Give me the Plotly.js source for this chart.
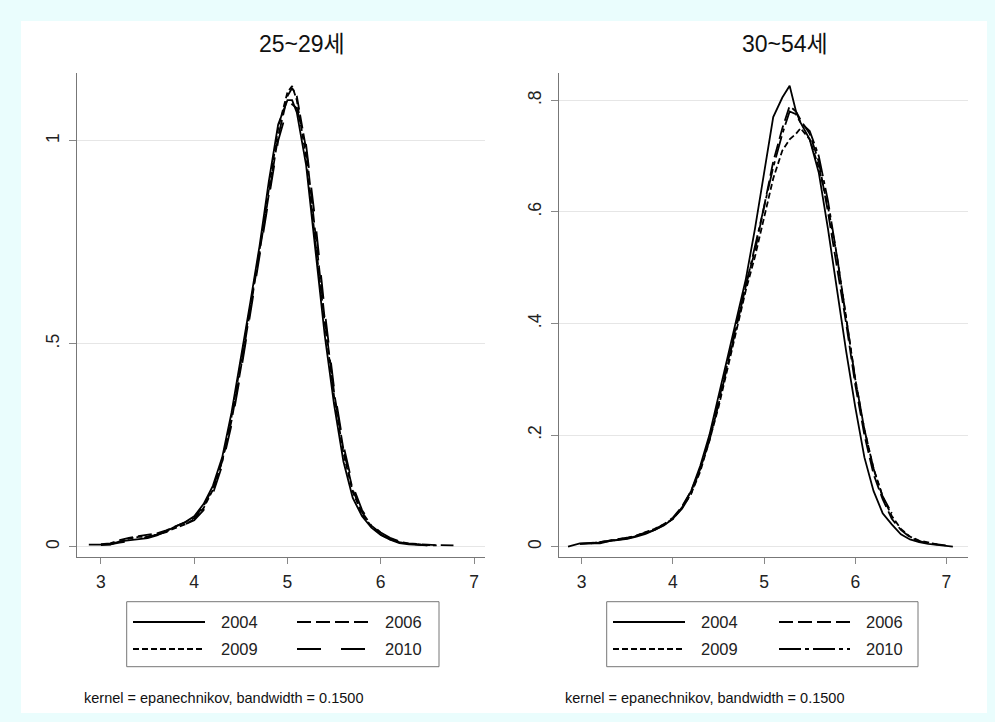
<!DOCTYPE html>
<html>
<head>
<meta charset="utf-8">
<script src="https://cdn.plot.ly/plotly-3.0.1.min.js"></script>
<style>
html,body{margin:0;padding:0;background:#EAFDFD;}
#chart{width:995px;height:722px;}
</style>
</head>
<body>
<div id="chart"></div>
<script>
// ---------- DATA ----------
const panelTitles = ["25~29세", "30~54세"];
const years = ["2004", "2006", "2009", "2010"];
const footnote = "kernel = epanechnikov, bandwidth = 0.1500";

const xTicks = [3, 4, 5, 6, 7];
const yTicksL = [0, 0.5, 1];
const yTickTextL = ["0", ".5", "1"];
const yTicksR = [0, 0.2, 0.4, 0.6, 0.8];
const yTickTextR = ["0", ".2", ".4", ".6", ".8"];

// Left panel (25~29)
const xL = [2.87,3.0,3.1,3.2,3.3,3.4,3.5,3.6,3.7,3.8,3.9,4.0,4.1,4.2,4.3,4.4,4.5,4.6,4.7,4.8,4.9,5.0,5.05,5.1,5.2,5.3,5.4,5.5,5.6,5.7,5.8,5.9,6.0,6.1,6.2,6.3,6.4,6.5,6.6,6.7,6.78];
const L2004 = [0.005,0.005,0.005,0.013,0.016,0.018,0.021,0.028,0.038,0.05,0.06,0.075,0.105,0.15,0.22,0.33,0.46,0.60,0.74,0.90,1.04,1.10,1.10,1.07,0.94,0.73,0.52,0.35,0.21,0.12,0.075,0.047,0.029,0.017,0.009,0.006,0.004,0.003,null,null,null];
const L2006 = [null,0.006,0.008,0.016,0.022,0.026,0.03,0.033,0.04,0.05,0.058,0.07,0.10,0.145,0.21,0.31,0.44,0.58,0.72,0.87,1.01,1.11,1.13,1.11,0.98,0.77,0.56,0.38,0.24,0.14,0.085,0.052,0.033,0.02,0.012,0.008,0.006,0.005,0.004,0.004,0.003];
const L2009 = [null,null,0.007,0.012,0.02,0.024,0.025,0.03,0.037,0.047,0.055,0.068,0.095,0.14,0.21,0.32,0.45,0.59,0.73,0.88,1.03,1.12,1.135,1.10,0.96,0.75,0.55,0.37,0.23,0.135,0.08,0.05,0.03,0.018,0.011,0.007,0.005,0.004,0.003,null,null];
const L2010 = [null,0.004,0.006,0.01,0.014,0.02,0.024,0.03,0.036,0.045,0.055,0.065,0.09,0.13,0.20,0.30,0.43,0.57,0.71,0.86,1.00,1.08,1.09,1.08,0.99,0.80,0.58,0.39,0.25,0.15,0.09,0.055,0.035,0.022,0.013,0.008,0.005,0.003,null,null,null];

// Right panel (30~54)
const xR = [2.85,2.98,3.1,3.2,3.3,3.4,3.5,3.6,3.7,3.8,3.9,4.0,4.1,4.2,4.3,4.4,4.5,4.6,4.7,4.8,4.9,5.0,5.1,5.2,5.28,5.35,5.4,5.5,5.6,5.7,5.8,5.9,6.0,6.1,6.2,6.3,6.4,6.5,6.6,6.7,6.8,6.9,7.0,7.07];
const R2004 = [0,0.006,0.006,0.006,0.010,0.012,0.014,0.018,0.023,0.03,0.038,0.05,0.07,0.10,0.145,0.20,0.27,0.34,0.41,0.48,0.57,0.67,0.77,0.805,0.826,0.78,0.76,0.73,0.67,0.57,0.46,0.35,0.25,0.16,0.10,0.06,0.04,0.022,0.013,0.008,0.005,0.003,0.001,0];
const R2006 = [null,0.005,0.006,0.008,0.011,0.013,0.016,0.02,0.025,0.031,0.04,0.052,0.072,0.10,0.14,0.195,0.26,0.33,0.40,0.47,0.53,0.61,0.69,0.75,0.79,0.78,0.765,0.74,0.69,0.60,0.50,0.40,0.29,0.20,0.13,0.085,0.05,0.03,0.017,0.01,0.006,0.004,0.002,null];
const R2009 = [null,null,0.006,0.008,0.01,0.013,0.016,0.02,0.026,0.032,0.04,0.05,0.07,0.095,0.135,0.19,0.25,0.32,0.39,0.46,0.52,0.59,0.66,0.71,0.73,0.74,0.75,0.73,0.68,0.61,0.52,0.41,0.30,0.21,0.14,0.09,0.055,0.032,0.018,0.011,0.007,0.004,null,null];
const R2010 = [null,0.005,0.006,0.007,0.01,0.012,0.015,0.019,0.024,0.03,0.039,0.05,0.068,0.095,0.14,0.19,0.255,0.325,0.395,0.465,0.535,0.61,0.68,0.74,0.78,0.775,0.76,0.745,0.70,0.62,0.52,0.41,0.30,0.21,0.14,0.09,0.06,null,null,null,null,null,null,null];

// ---------- STYLE ----------
const W = 995, H = 722;
const px = v => v / W;
const py = v => 1 - v / H;
const FONT = "Liberation Sans, Arial, Noto Sans CJK KR, sans-serif";
const LW = 1.8;
const dashL = ["solid", "14px,5px", "6px,3px", "24px,20px"];
const dashR = ["solid", "14px,5px", "6px,3px", "22px,4px,4px,4px"];

const seriesL = [L2004, L2006, L2009, L2010];
const seriesR = [R2004, R2006, R2009, R2010];

const traces = [];
seriesL.forEach((ys, i) => traces.push({
  x: xL, y: ys, type: "scatter", mode: "lines", xaxis: "x", yaxis: "y",
  name: years[i], showlegend: false, connectgaps: false,
  line: {color: "#000", width: LW, dash: dashL[i]}
}));
seriesR.forEach((ys, i) => traces.push({
  x: xR, y: ys, type: "scatter", mode: "lines", xaxis: "x2", yaxis: "y2",
  name: years[i], showlegend: false, connectgaps: false,
  line: {color: "#000", width: LW, dash: dashR[i]}
}));

function xAxis(domain, range) {
  return {
    domain: domain, range: range, tickmode: "array", tickvals: xTicks,
    ticks: "outside", ticklen: 6, tickcolor: "#888", tickwidth: 1,
    showline: true, linecolor: "#777", linewidth: 1, ticklabelstandoff: 3,
    showgrid: false, zeroline: false, fixedrange: true,
    tickfont: {family: FONT, size: 17.5, color: "#222"}
  };
}
function yAxis(domain, range, vals, text) {
  return {
    domain: domain, range: range, tickmode: "array", tickvals: vals, ticktext: text,
    tickangle: -90, ticks: "outside", ticklen: 7, tickcolor: "#888", tickwidth: 1,
    showline: true, linecolor: "#777", linewidth: 1, ticklabelstandoff: 3,
    showgrid: true, gridcolor: "#E6E6E6", gridwidth: 1, zeroline: false, fixedrange: true,
    tickfont: {family: FONT, size: 17.5, color: "#222"}
  };
}

const shapes = [
  {type: "rect", xref: "paper", yref: "paper", x0: px(21), x1: px(987), y0: py(713), y1: py(21),
   fillcolor: "#FFFFFF", line: {width: 0}, layer: "below"}
];
const annotations = [];

// titles
[[302, panelTitles[0]], [785, panelTitles[1]]].forEach(([cx, t]) => annotations.push({
  xref: "paper", yref: "paper", x: px(cx), y: py(44), xanchor: "center", yanchor: "middle",
  text: t, showarrow: false, font: {family: FONT, size: 23, color: "#111"}
}));

// legends
function legend(box, c1, c2, rows, dashes) {
  shapes.push({type: "rect", xref: "paper", yref: "paper",
    x0: px(box[0]), x1: px(box[1]), y0: py(box[3]), y1: py(box[2]),
    fillcolor: "#FFFFFF", line: {color: "#777", width: 1}});
  const cols = [c1, c2];
  // order: row1: 2004, 2006 ; row2: 2009, 2010
  const order = [[0, 0, 0], [1, 1, 0], [2, 0, 1], [3, 1, 1]];
  order.forEach(([k, c, r]) => {
    const col = cols[c], yy = rows[r];
    shapes.push({type: "line", xref: "paper", yref: "paper",
      x0: px(col[0]), x1: px(col[1]), y0: py(yy), y1: py(yy),
      line: {color: "#000", width: LW, dash: dashes[k]}});
    annotations.push({xref: "paper", yref: "paper", x: px(col[2]), y: py(yy),
      xanchor: "left", yanchor: "middle", text: years[k], showarrow: false,
      font: {family: FONT, size: 16.5, color: "#222"}});
  });
}
legend([126.7, 439, 601.7, 666.7], [133, 205, 219], [297, 368, 383], [622, 649], dashL);
legend([606.7, 918, 601.7, 666.7], [613, 685, 699], [779, 850, 864], [622, 649], dashR);

// footnotes
[82, 563].forEach(x0 => annotations.push({
  xref: "paper", yref: "paper", x: px(x0), y: py(698), xanchor: "left", yanchor: "middle",
  text: footnote, showarrow: false, font: {family: FONT, size: 14.5, color: "#111"}
}));

const layout = {
  width: W, height: H, margin: {l: 0, r: 0, t: 0, b: 0, pad: 0},
  paper_bgcolor: "#EAFDFD", plot_bgcolor: "#FFFFFF",
  showlegend: false,
  xaxis: xAxis([px(76.7), px(485)], [2.74, 7.118]),
  yaxis: yAxis([1 - 557 / H, 1 - 73 / H], [-0.0254, 1.167], yTicksL, yTickTextL),
  xaxis2: xAxis([px(559.3), px(968)], [2.754, 7.236]),
  yaxis2: yAxis([1 - 557 / H, 1 - 73 / H], [-0.0185, 0.849], yTicksR, yTickTextR),
  shapes: shapes, annotations: annotations
};
layout.xaxis.anchor = "y";
layout.yaxis.anchor = "x";
layout.xaxis2.anchor = "y2";
layout.yaxis2.anchor = "x2";

Plotly.newPlot("chart", traces, layout, {displayModeBar: false, staticPlot: true});
</script>
</body>
</html>
